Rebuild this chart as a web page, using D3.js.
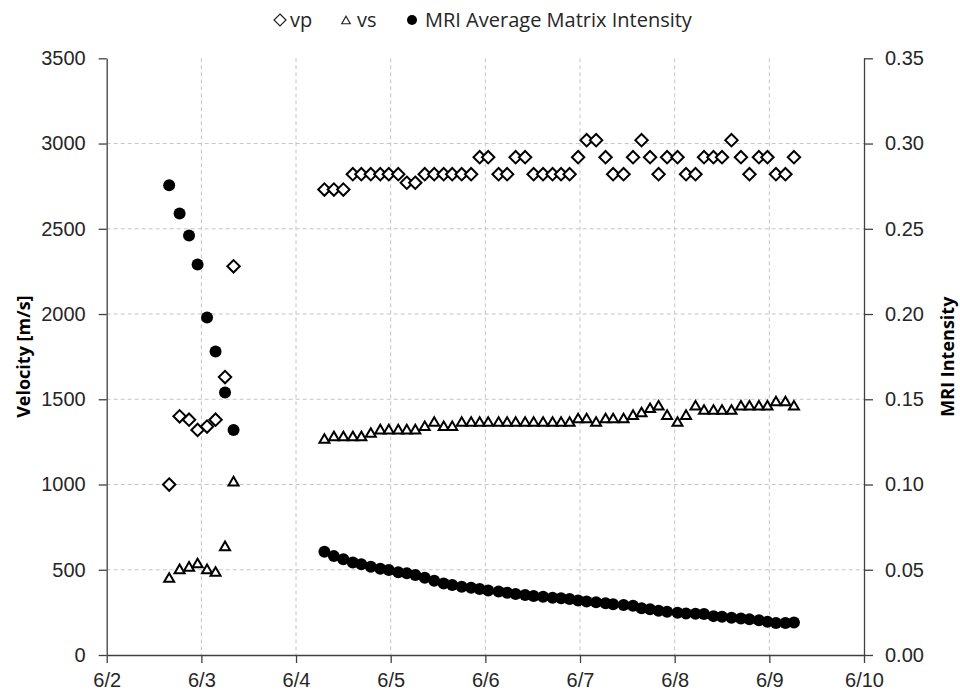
<!DOCTYPE html>
<html>
<head>
<meta charset="utf-8">
<script src="https://cdn.jsdelivr.net/npm/d3@7"></script>
<style>
  html, body { margin: 0; padding: 0; background: #fff; }
  svg { display: block; font-family: "Open Sans", "DejaVu Sans", sans-serif; }
</style>
</head>
<body>
<svg id="chart" width="960" height="700"></svg>
<script>
// Sample times, as day of June (fractional)
const sampleDay = [
  2.66, 2.77, 2.87, 2.96, 3.06, 3.15, 3.25, 3.34,
  4.30, 4.40, 4.50, 4.60, 4.69, 4.79, 4.89, 4.98, 5.08, 5.17,
  5.26, 5.36, 5.46, 5.56, 5.65, 5.75, 5.85, 5.94, 6.03, 6.14,
  6.23, 6.32, 6.42, 6.51, 6.61, 6.71, 6.80, 6.89, 6.98, 7.07,
  7.17, 7.27, 7.35, 7.46, 7.56, 7.65, 7.74, 7.83, 7.92, 8.03,
  8.12, 8.22, 8.31, 8.41, 8.50, 8.60, 8.70, 8.79, 8.89, 8.98,
  9.07, 9.17, 9.26
];

// P-wave velocity [m/s]
const vp = [
  1000, 1400, 1380, 1320, 1340, 1380, 1630, 2280,
  2730, 2730, 2730, 2820, 2820, 2820, 2820, 2820, 2820, 2770,
  2770, 2820, 2820, 2820, 2820, 2820, 2820, 2920, 2920, 2820,
  2820, 2920, 2920, 2820, 2820, 2820, 2820, 2820, 2920, 3020,
  3020, 2920, 2820, 2820, 2920, 3020, 2920, 2820, 2920, 2920,
  2820, 2820, 2920, 2920, 2920, 3020, 2920, 2820, 2920, 2920,
  2820, 2820, 2920
];

// S-wave velocity [m/s]
const vs = [
  455, 505, 520, 540, 505, 490, 640, 1020,
  1270, 1285, 1285, 1285, 1285, 1305, 1325, 1325, 1325, 1325,
  1325, 1345, 1370, 1345, 1345, 1370, 1370, 1370, 1370, 1370,
  1370, 1370, 1370, 1370, 1370, 1370, 1370, 1370, 1390, 1390,
  1370, 1390, 1390, 1390, 1410, 1425, 1450, 1465, 1410, 1370,
  1410, 1465, 1440, 1440, 1440, 1440, 1465, 1465, 1465, 1465,
  1490, 1490, 1465
];

// MRI average matrix intensity (secondary axis)
const mri = [
  0.2755, 0.259, 0.246, 0.229, 0.198, 0.178, 0.154, 0.132,
  0.0605, 0.058, 0.0561, 0.0543, 0.0532, 0.0518, 0.0506, 0.0498, 0.0485, 0.0479,
  0.0469, 0.0453, 0.0436, 0.042, 0.041, 0.04, 0.0395, 0.0387, 0.0379, 0.0373,
  0.0365, 0.0358, 0.0352, 0.0346, 0.0342, 0.0336, 0.0333, 0.0328, 0.032, 0.0314,
  0.0309, 0.0303, 0.0297, 0.0293, 0.0289, 0.0274, 0.0268, 0.026, 0.0254, 0.0248,
  0.0244, 0.0242, 0.024, 0.0228, 0.0224, 0.0218, 0.0214, 0.0209, 0.0204, 0.0195,
  0.0188, 0.0188, 0.019
];

const dayTicks = [2, 3, 4, 5, 6, 7, 8, 9, 10];
const dayTickLabels = ["6/2", "6/3", "6/4", "6/5", "6/6", "6/7", "6/8", "6/9", "6/10"];
const velocityTicks = [0, 500, 1000, 1500, 2000, 2500, 3000, 3500];
const intensityTicks = [0, 0.05, 0.10, 0.15, 0.20, 0.25, 0.30, 0.35];
const legendLabels = ["vp", "vs", "MRI Average Matrix Intensity"];

const svg = d3.select("#chart");
const margin = { top: 58.3, right: 96, bottom: 45, left: 106.7 };
const W = 960, H = 700;
const innerW = W - margin.left - margin.right;
const innerH = H - margin.top - margin.bottom;

const x = d3.scaleLinear().domain([2, 10]).range([margin.left, margin.left + innerW]);
const yL = d3.scaleLinear().domain([0, 3500]).range([margin.top + innerH, margin.top]);
const yR = d3.scaleLinear().domain([0, 0.35]).range([margin.top + innerH, margin.top]);

const textColor = "#262626";
const axisColor = "#404040";
const gridColor = "#c6c6c6";

// gridlines
const grid = svg.append("g").attr("class", "grid");
grid.selectAll("line.h")
  .data(velocityTicks.filter(v => v > 0 && v < 3500))
  .join("line")
  .attr("x1", margin.left).attr("x2", margin.left + innerW)
  .attr("y1", d => yL(d)).attr("y2", d => yL(d))
  .attr("stroke", gridColor).attr("stroke-width", 1)
  .attr("stroke-dasharray", "4,3");
grid.selectAll("line.v")
  .data(dayTicks.filter(d => d > 2 && d < 10))
  .join("line")
  .attr("x1", d => x(d)).attr("x2", d => x(d))
  .attr("y1", margin.top).attr("y2", margin.top + innerH)
  .attr("stroke", gridColor).attr("stroke-width", 1)
  .attr("stroke-dasharray", "4,3");

// axes
function styleAxis(g) {
  g.select(".domain").attr("stroke", axisColor).attr("stroke-width", 1.3);
  g.selectAll(".tick line").attr("stroke", axisColor).attr("stroke-width", 1.3);
  g.selectAll(".tick text").attr("fill", textColor).attr("font-size", 20);
}

svg.append("g")
  .attr("transform", `translate(${margin.left},0)`)
  .call(d3.axisLeft(yL).tickValues(velocityTicks).tickSize(8).tickSizeOuter(0).tickPadding(13)
    .tickFormat(d3.format("d")))
  .call(styleAxis);

svg.append("g")
  .attr("transform", `translate(${margin.left + innerW},0)`)
  .call(d3.axisRight(yR).tickValues(intensityTicks).tickSize(9).tickSizeOuter(0).tickPadding(12)
    .tickFormat(d3.format(".2f")))
  .call(styleAxis);

svg.append("g")
  .attr("transform", `translate(0,${margin.top + innerH})`)
  .call(d3.axisBottom(x).tickValues(dayTicks).tickSize(8).tickSizeOuter(0).tickPadding(10)
    .tickFormat((d, i) => dayTickLabels[i]))
  .call(styleAxis);

// axis titles
svg.append("text")
  .attr("transform", `translate(23,${margin.top + innerH / 2}) rotate(-90)`)
  .attr("text-anchor", "middle").attr("dominant-baseline", "central")
  .attr("font-size", 18).attr("font-weight", "bold").attr("fill", "#000")
  .text("Velocity [m/s]");
svg.append("text")
  .attr("transform", `translate(947,${margin.top + innerH / 2}) rotate(-90)`)
  .attr("text-anchor", "middle").attr("dominant-baseline", "central")
  .attr("font-size", 18).attr("font-weight", "bold").attr("fill", "#000")
  .text("MRI Intensity");

// marker shapes
const diamondPath = s => `M0,${-s}L${s},0L0,${s}L${-s},0Z`;
const trianglePath = (w, h) => `M0,${-h / 2}L${w / 2},${h / 2}L${-w / 2},${h / 2}Z`;

const idx = d3.range(sampleDay.length);

svg.append("g").selectAll("path")
  .data(idx)
  .join("path")
  .attr("transform", i => `translate(${x(sampleDay[i])},${yL(vp[i])})`)
  .attr("d", diamondPath(6.2))
  .attr("fill", "#fff").attr("stroke", "#000").attr("stroke-width", 2);

svg.append("g").selectAll("path")
  .data(idx)
  .join("path")
  .attr("transform", i => `translate(${x(sampleDay[i])},${yL(vs[i])})`)
  .attr("d", trianglePath(10, 8.6))
  .attr("fill", "#fff").attr("stroke", "#000").attr("stroke-width", 2)
  .attr("stroke-linejoin", "miter");

svg.append("g").selectAll("circle")
  .data(idx)
  .join("circle")
  .attr("cx", i => x(sampleDay[i]))
  .attr("cy", i => yR(mri[i]))
  .attr("r", 6)
  .attr("fill", "#000");

// legend
const legend = svg.append("g").attr("font-size", 20).attr("fill", textColor);
const ly = 20;
legend.append("path").attr("transform", `translate(280,${ly})`)
  .attr("d", diamondPath(6)).attr("fill", "#fff").attr("stroke", "#222").attr("stroke-width", 1.2);
legend.append("text").attr("x", 290).attr("y", ly).attr("dy", "0.35em").text(legendLabels[0]);
legend.append("path").attr("transform", `translate(346,${ly})`)
  .attr("d", trianglePath(8.5, 7.5)).attr("fill", "#fff").attr("stroke", "#222").attr("stroke-width", 1.2);
legend.append("text").attr("x", 357).attr("y", ly).attr("dy", "0.35em").text(legendLabels[1]);
legend.append("circle").attr("cx", 412).attr("cy", ly).attr("r", 5).attr("fill", "#000");
legend.append("text").attr("x", 425).attr("y", ly).attr("dy", "0.35em").text(legendLabels[2]);
</script>
</body>
</html>
